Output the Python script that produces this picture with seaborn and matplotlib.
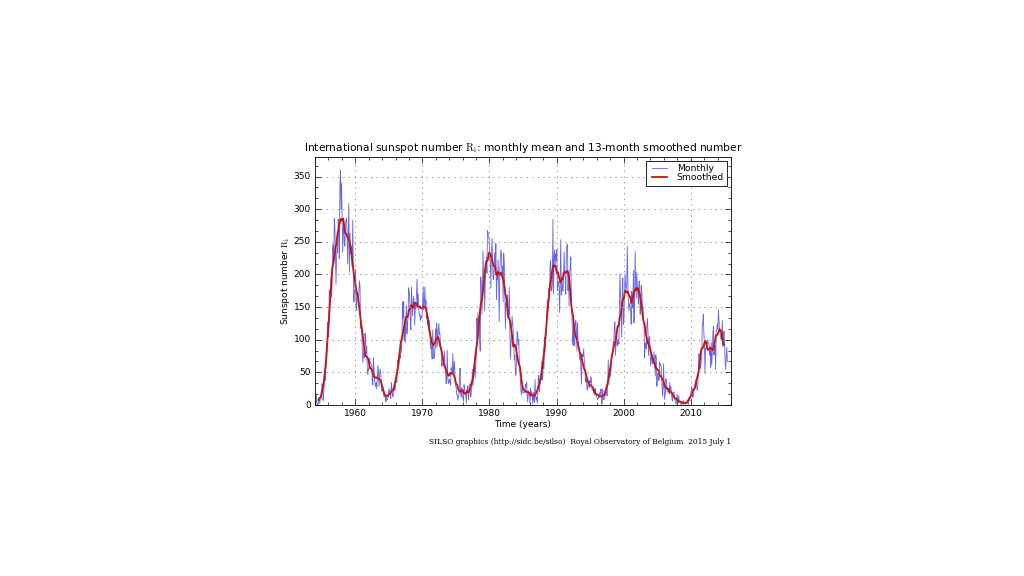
import numpy as np
import pandas as pd
import matplotlib
matplotlib.use("Agg")
import matplotlib.pyplot as plt
from matplotlib.ticker import MultipleLocator, AutoMinorLocator
import seaborn as sns

# monthly mean total sunspot number, Jan 1954 .. Jun 2015 (one row per year)
start_year = 1954
monthly = [
    0.3, 0.7, 15.4, 2.5, 1.1, 0.3, 6.8, 11.8, 2.1, 9.9, 13.0, 10.7,            # 1954
    32.8, 29.5, 7.0, 16.0, 41.0, 45.0, 37.9, 57.8, 60.6, 83.1, 126.7, 109.2,   # 1955
    104.5, 176.1, 168.1, 157.2, 194.0, 165.6, 183.3, 240.8, 245.9, 220.5, 285.8, 272.8,
    234.3, 184.9, 223.5, 248.8, 233.7, 285.0, 265.8, 224.4, 334.8, 359.4, 299.5, 340.0,
    287.6, 234.2, 270.8, 278.3, 248.9, 243.5, 271.8, 284.3, 285.7, 257.7, 216.3, 266.4,
    308.7, 203.2, 263.7, 231.9, 244.2, 239.6, 212.4, 283.4, 206.2, 158.2, 176.1, 177.5,
    207.7, 150.5, 145.1, 173.2, 169.8, 156.5, 172.8, 190.4, 180.6, 117.6, 127.2, 121.6,  # 1960
    82.2, 65.5, 75.3, 87.2, 72.4, 109.9, 99.7, 79.4, 90.3, 53.5, 46.3, 56.8,
    55.0, 71.4, 64.8, 65.9, 62.1, 59.6, 31.0, 31.0, 72.8, 56.1, 38.2, 32.9,
    28.1, 34.6, 24.3, 41.6, 61.1, 51.0, 27.8, 47.1, 55.1, 50.1, 33.2, 21.2,
    21.7, 25.1, 23.4, 12.2, 13.5, 12.9, 4.4, 13.2, 6.7, 8.7, 10.5, 21.4,
    24.9, 20.2, 16.6, 9.7, 34.2, 22.6, 16.9, 12.6, 23.9, 28.5, 22.4, 24.1,
    40.0, 34.6, 35.9, 69.2, 64.3, 67.7, 80.5, 72.7, 71.3, 81.2, 81.2, 100.0,
    157.5, 132.9, 158.8, 98.7, 122.8, 95.6, 129.9, 152.2, 109.1, 125.2, 133.9, 179.5,
    173.0, 158.9, 130.9, 115.3, 180.6, 156.6, 136.5, 155.2, 166.4, 152.9, 122.1, 155.9,
    148.2, 171.1, 192.8, 151.7, 170.4, 150.5, 137.5, 139.2, 129.6, 135.9, 132.8, 139.0,
    158.3, 181.5, 146.1, 155.5, 181.0, 151.7, 159.8, 132.1, 141.3, 123.0, 135.2, 118.6,  # 1970
    129.6, 112.2, 86.2, 102.0, 81.7, 70.7, 115.0, 87.2, 71.3, 73.4, 89.7, 116.7,
    87.3, 125.5, 113.7, 89.7, 114.3, 125.0, 108.6, 109.1, 90.9, 87.0, 59.1, 64.3,
    61.6, 60.9, 65.3, 81.9, 60.2, 56.1, 32.8, 36.4, 84.2, 43.6, 33.9, 33.1,
    39.2, 36.9, 30.2, 57.2, 56.1, 51.1, 79.2, 47.7, 57.1, 66.9, 35.5, 29.1,
    26.8, 16.3, 16.3, 7.2, 12.8, 16.2, 40.0, 56.4, 19.7, 12.9, 27.5, 11.1,
    11.5, 6.1, 31.1, 26.7, 17.6, 17.3, 2.7, 23.3, 19.2, 29.3, 7.4, 21.7,
    23.3, 32.8, 12.4, 18.3, 26.4, 54.7, 30.4, 42.7, 62.5, 62.2, 41.3, 61.3,
    73.7, 132.9, 108.6, 141.6, 117.4, 135.0, 100.0, 82.5, 196.2, 177.6, 139.0, 174.2,
    236.6, 195.3, 196.0, 144.1, 190.8, 212.3, 226.3, 201.9, 267.5, 264.4, 260.3, 250.3,
    226.6, 220.1, 179.2, 233.0, 255.5, 223.4, 193.5, 192.3, 220.1, 233.9, 210.0, 247.6,  # 1980
    161.9, 200.6, 192.4, 222.1, 181.0, 127.8, 204.2, 225.4, 237.6, 230.6, 195.3, 213.1,
    157.9, 232.3, 218.4, 173.2, 116.7, 156.8, 150.7, 152.8, 168.7, 134.5, 139.3, 180.3,
    115.5, 69.9, 91.1, 110.6, 135.9, 124.8, 112.6, 98.4, 68.9, 76.4, 45.6, 45.8,
    75.2, 112.7, 110.2, 92.0, 100.8, 60.9, 49.4, 33.7, 20.7, 15.8, 30.1, 24.7,
    19.0, 18.3, 19.8, 18.6, 31.6, 27.8, 35.3, 12.8, 4.5, 21.4, 18.6, 19.9,
    2.8, 25.5, 16.6, 20.4, 15.1, 1.2, 19.9, 8.1, 4.2, 38.9, 16.7, 7.5,
    12.0, 2.8, 16.9, 45.5, 38.0, 20.0, 39.0, 44.6, 38.3, 66.7, 38.1, 44.7,
    80.1, 55.1, 103.8, 81.4, 98.7, 111.5, 136.6, 161.6, 143.5, 155.8, 179.0, 168.2,
    216.1, 221.2, 176.1, 175.0, 185.6, 284.5, 170.0, 226.3, 236.8, 213.6, 231.8, 221.8,
    238.5, 175.5, 188.7, 188.7, 177.8, 141.8, 200.9, 253.4, 168.4, 195.7, 176.7, 174.4,  # 1990
    191.7, 234.5, 198.7, 196.0, 169.8, 237.6, 243.2, 246.8, 175.4, 201.7, 151.5, 202.2,
    211.5, 227.2, 150.4, 140.7, 104.1, 91.9, 120.8, 90.9, 90.1, 125.1, 129.4, 116.5,
    82.4, 126.5, 97.0, 86.5, 85.2, 69.2, 80.5, 58.8, 31.7, 78.0, 74.1, 74.2,
    86.3, 69.5, 61.8, 36.6, 35.3, 44.9, 23.0, 23.3, 36.8, 31.1, 26.9, 37.4,
    34.3, 44.2, 37.9, 23.0, 22.7, 23.9, 17.9, 24.2, 14.6, 25.3, 18.7, 14.2,
    11.7, 7.7, 10.9, 11.5, 18.6, 17.3, 15.4, 24.6, 2.2, 1.2, 24.2, 14.7,
    7.7, 10.3, 11.7, 20.9, 25.0, 17.1, 14.0, 32.9, 69.3, 30.8, 52.7, 55.6,
    43.7, 55.2, 75.1, 73.2, 77.1, 96.9, 91.2, 126.3, 127.3, 76.0, 101.4, 112.2,
    90.5, 96.8, 100.5, 93.0, 155.3, 201.0, 165.7, 136.8, 104.4, 170.4, 194.5, 123.5,
    131.0, 164.2, 201.4, 182.5, 176.8, 181.6, 243.3, 189.7, 159.5, 144.5, 155.3, 151.8,  # 2000
    146.7, 123.7, 174.2, 165.3, 148.3, 205.7, 125.6, 163.3, 235.2, 192.6, 163.5, 202.9,
    179.5, 168.9, 154.8, 189.9, 190.0, 138.9, 156.7, 183.1, 172.4, 153.4, 150.2, 127.1,
    124.3, 71.8, 95.3, 93.6, 86.1, 120.7, 132.6, 113.4, 76.1, 102.3, 104.8, 73.3,
    59.5, 73.6, 78.2, 62.9, 66.4, 69.1, 81.8, 65.4, 44.3, 76.8, 69.6, 28.6,
    48.2, 45.0, 37.7, 37.6, 65.6, 61.0, 61.4, 56.1, 34.0, 13.1, 27.7, 63.4,
    25.0, 8.1, 17.6, 40.5, 36.2, 22.6, 19.8, 21.0, 23.4, 17.1, 34.8, 22.1,
    28.4, 17.8, 8.1, 6.2, 19.7, 20.2, 16.8, 10.4, 4.0, 1.5, 2.9, 17.0,
    5.4, 3.4, 14.9, 4.6, 4.6, 5.0, 0.8, 0.8, 1.8, 4.6, 6.6, 1.3,
    2.3, 2.2, 1.1, 1.9, 4.5, 4.0, 5.4, 0.0, 6.5, 7.1, 6.5, 16.4,
    19.7, 27.9, 23.1, 11.9, 13.2, 20.3, 24.2, 29.4, 37.8, 35.3, 32.4, 21.8,   # 2010
    27.3, 48.3, 78.6, 76.1, 58.2, 56.1, 64.5, 65.8, 120.1, 125.7, 139.1, 109.3,
    94.4, 47.8, 86.6, 85.9, 96.5, 92.0, 100.1, 94.8, 93.7, 76.5, 87.6, 56.8,
    96.1, 60.9, 78.3, 107.3, 120.2, 76.7, 86.2, 91.8, 54.5, 114.4, 113.9, 124.2,
    117.0, 146.1, 128.7, 112.5, 112.5, 102.9, 100.2, 106.9, 130.0, 90.0, 103.6, 112.9,
    93.0, 66.7, 54.5, 75.3, 88.8, 66.5,                                         # 2015
]

monthly = np.array(monthly)
t = start_year + (np.arange(len(monthly)) + 0.5) / 12.0

# 13-month smoothed number (tapered running mean, half weight at both ends)
w = np.r_[0.5, np.ones(11), 0.5] / 12.0
smoothed = np.convolve(monthly, w, mode="valid")
t_smooth = t[6:-6]

df_m = pd.DataFrame({"t": t, "sn": monthly})
df_s = pd.DataFrame({"t": t_smooth, "sn": smoothed})

plt.style.use("classic")
plt.rcParams["axes.formatter.useoffset"] = False
fig = plt.figure(figsize=(10.24, 5.76), dpi=100, facecolor="white")
ax = fig.add_axes([315/1024, 171/576, 416/1024, 248/576])

sns.lineplot(data=df_m, x="t", y="sn", ax=ax, color="#3030e0", lw=0.6, alpha=0.75, label="Monthly")
sns.lineplot(data=df_s, x="t", y="sn", ax=ax, color="#cc1010", lw=1.3, label="Smoothed")

ax.set_xlim(1954, 2016)
ax.set_ylim(0, 380)
ax.xaxis.set_major_locator(MultipleLocator(10))
ax.xaxis.set_minor_locator(MultipleLocator(2))
ax.yaxis.set_major_locator(MultipleLocator(50))
ax.yaxis.set_minor_locator(AutoMinorLocator(3))
ax.ticklabel_format(useOffset=False)
ax.tick_params(which="both", direction="in", top=True, right=True, labelsize=6.5, pad=3)
ax.tick_params(which="major", length=4, width=0.5)
ax.tick_params(which="minor", length=2, width=0.5)
ax.grid(True, which="major", linestyle=":", color="#888888", lw=0.6)
for s in ax.spines.values():
    s.set_linewidth(0.6)

ax.set_title(r"International sunspot number $\mathrm{R_i}$: monthly mean and 13-month smoothed number",
             fontsize=7.7, pad=4)
ax.set_xlabel("Time (years)", fontsize=6.5, labelpad=1)
ax.set_ylabel(r"Sunspot number $\mathrm{R_i}$", fontsize=6.5, labelpad=1)

leg = ax.legend(loc="upper right", fontsize=6.7, frameon=True, fancybox=False,
                handlelength=2.2, borderpad=0.35, labelspacing=0.05, borderaxespad=0.4)
leg.get_frame().set_linewidth(0.6)
leg.get_frame().set_edgecolor("black")

fig.text(731/1024, 1 - 442/576, "SILSO graphics (http://sidc.be/silso)  Royal Observatory of Belgium  2015 July 1",
         ha="right", va="center", fontsize=5.4, family="DejaVu Serif")

fig.savefig("out.png", dpi=100, facecolor="white")
